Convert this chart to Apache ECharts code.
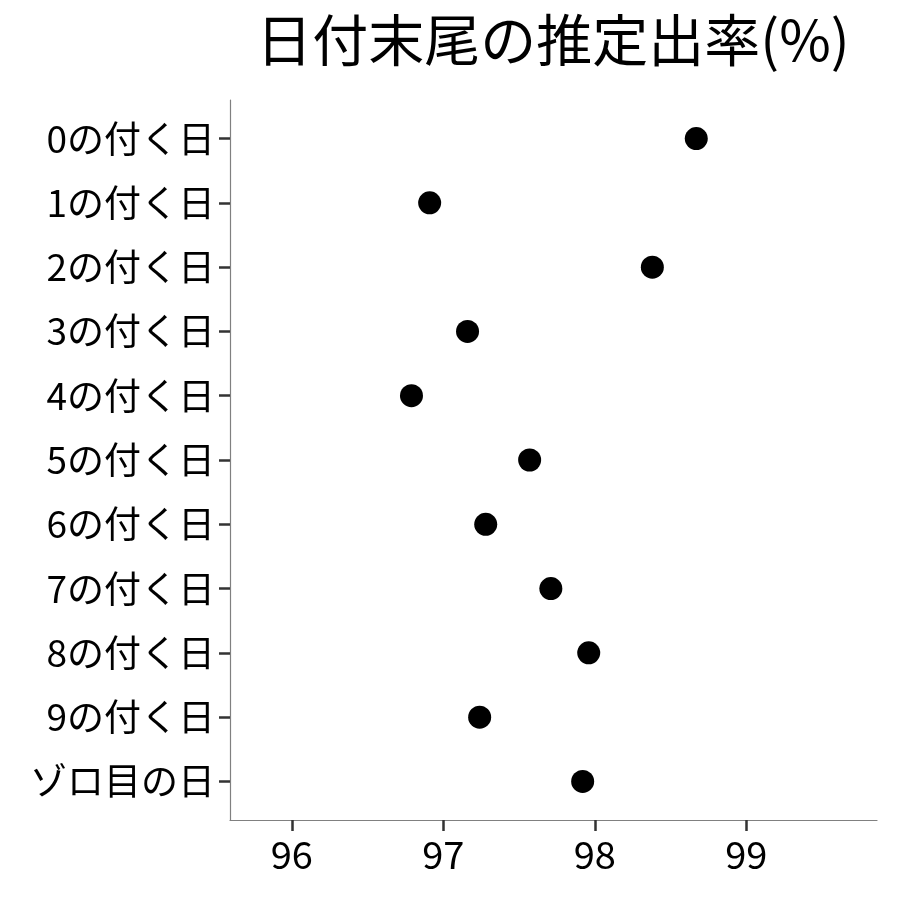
<!DOCTYPE html>
<html>
<head>
<meta charset="utf-8">
<script src="https://cdn.jsdelivr.net/npm/echarts@6/dist/echarts.min.js"></script>
<style>
  html, body { margin: 0; padding: 0; background: #fff; }
  #main { width: 900px; height: 900px; }
</style>
</head>
<body>
<div id="main"></div>
<script>
// 日付末尾ごとの推定出率
const categories = ['0の付く日', '1の付く日', '2の付く日', '3の付く日', '4の付く日',
  '5の付く日', '6の付く日', '7の付く日', '8の付く日', '9の付く日', 'ゾロ目の日'];
const rates = [98.67, 96.91, 98.38, 97.16, 96.79, 97.57, 97.28, 97.71, 97.96, 97.24, 97.92];
const xTicks = [96, 97, 98, 99];

const font = '"Noto Sans CJK JP", "Noto Sans", sans-serif';
const rowIdx = categories.map((_, i) => i);

const chart = echarts.init(document.getElementById('main'));
chart.setOption({
  backgroundColor: '#fff',
  animation: false,
  title: {
    text: '日付末尾の推定出率(%)',
    left: 548,
    top: 7,
    textAlign: 'center',
    textStyle: { fontFamily: font, fontSize: 56, fontWeight: 'normal', color: '#000' }
  },
  grid: {
    left: 230,
    right: 23,
    top: 100,
    bottom: 80,
    outerBoundsMode: 'none'
  },
  xAxis: {
    type: 'value',
    min: 95.592,
    max: 99.863,
    splitLine: { show: false },
    axisLine: { onZero: false, lineStyle: { color: '#808080', width: 1.2 } },
    axisTick: { customValues: xTicks, length: 11, lineStyle: { color: '#333', width: 2.5 } },
    axisLabel: {
      customValues: xTicks,
      margin: 16,
      fontFamily: font,
      fontSize: 38,
      color: '#000'
    }
  },
  yAxis: {
    type: 'value',
    min: -0.6,
    max: 10.6,
    inverse: true,
    splitLine: { show: false },
    axisLine: { show: true, onZero: false, lineStyle: { color: '#808080', width: 1.2 } },
    axisTick: { show: true, customValues: rowIdx, length: 11, lineStyle: { color: '#333', width: 2.5 } },
    axisLabel: {
      customValues: rowIdx,
      margin: 15,
      fontFamily: font,
      fontSize: 37,
      color: '#000',
      formatter: v => categories[v]
    }
  },
  series: [{
    type: 'scatter',
    symbol: 'circle',
    symbolSize: 23,
    itemStyle: { color: '#000', opacity: 1 },
    data: rates.map((r, i) => [r, i])
  }]
});
</script>
</body>
</html>
